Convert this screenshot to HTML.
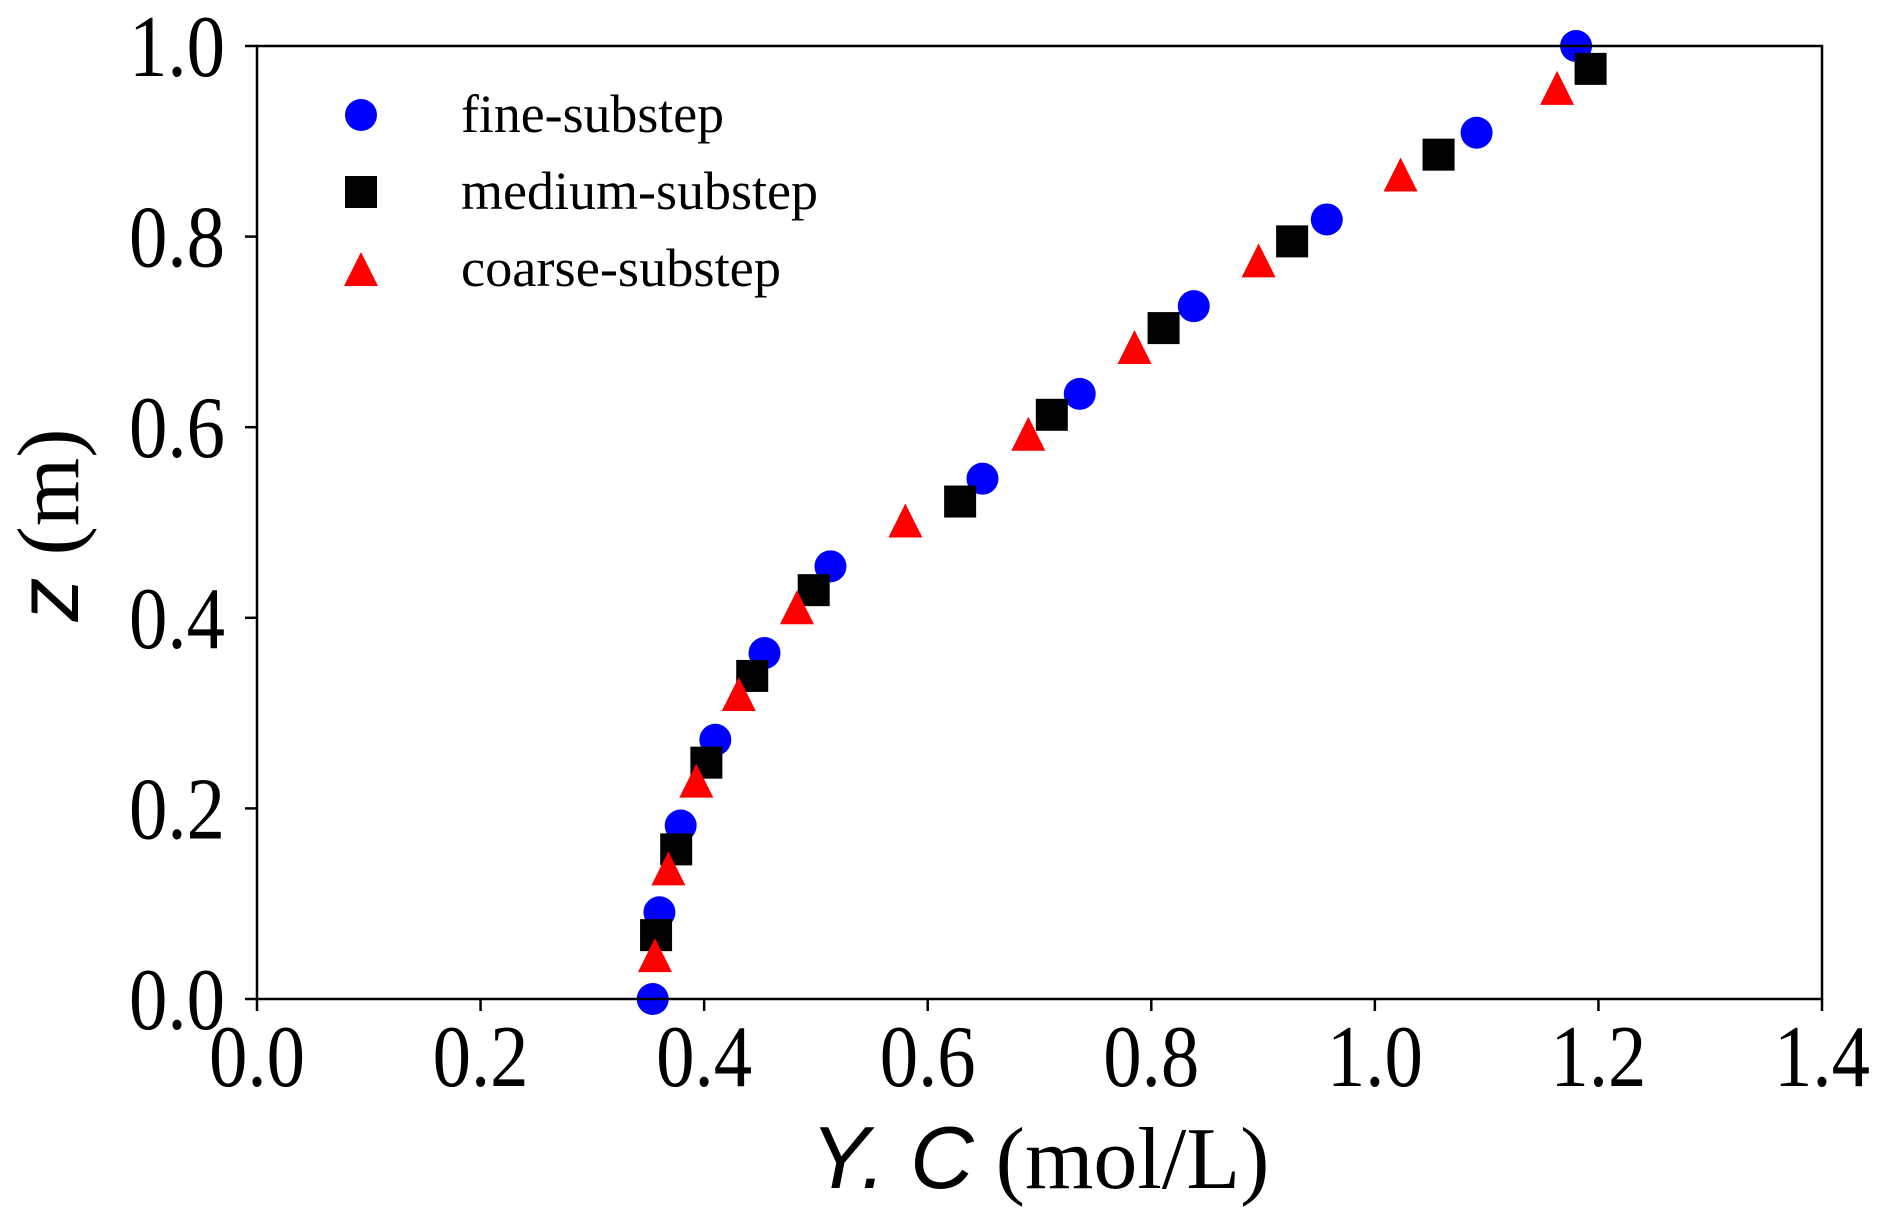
<!DOCTYPE html>
<html><head><meta charset="utf-8"><style>
html,body{margin:0;padding:0;background:#fff;}
svg{display:block;}
text{font-family:"Liberation Serif",serif;fill:#000;}
</style></head><body>
<svg id="chart" width="1892" height="1231" viewBox="0 0 1892 1231" xmlns="http://www.w3.org/2000/svg">
<g id="marks"></g>
<rect x="257" y="46" width="1565" height="953" fill="none" stroke="#000" stroke-width="2.5"/>
<g id="axes"></g>
<g>
  <circle cx="361" cy="115" r="16" fill="#0000ff"/>
  <text x="461" y="132" font-size="54" textLength="263" lengthAdjust="spacingAndGlyphs">fine-substep</text>
  <rect x="345" y="176" width="32" height="32" fill="#000"/>
  <text x="461" y="209" font-size="54" textLength="357" lengthAdjust="spacingAndGlyphs">medium-substep</text>
  <polygon points="361,252 344,286 378,286" fill="#ff0000"/>
  <text x="461" y="286" font-size="54" textLength="320" lengthAdjust="spacingAndGlyphs">coarse-substep</text>
</g>
<text transform="translate(78,525) rotate(-90)" text-anchor="middle" font-size="88"><tspan font-family="Liberation Sans, sans-serif" font-style="italic">z</tspan> (m)</text>
<text x="1040" y="1188" text-anchor="middle" font-size="88"><tspan font-family="Liberation Sans, sans-serif" font-style="italic">Y. C</tspan> (mol/L)</text>
</svg>
<script>
const fineX = [0.354,0.36,0.379,0.41,0.454,0.513,0.649,0.736,0.838,0.957,1.091,1.18];
const fineZ = [0.0,0.091,0.182,0.272,0.363,0.454,0.546,0.635,0.727,0.818,0.909,1.0];
const mediumX = [0.357,0.375,0.402,0.443,0.498,0.629,0.711,0.811,0.926,1.057,1.193];
const mediumZ = [0.067,0.157,0.248,0.339,0.429,0.522,0.613,0.704,0.795,0.886,0.976];
const coarseX = [0.356,0.368,0.393,0.431,0.483,0.58,0.69,0.785,0.896,1.023,1.163];
const coarseZ = [0.044,0.135,0.227,0.318,0.409,0.5,0.591,0.682,0.773,0.863,0.954];
const xTicks = [0.0,0.2,0.4,0.6,0.8,1.0,1.2,1.4];
const yTicks = [0.0,0.2,0.4,0.6,0.8,1.0];

const NS="http://www.w3.org/2000/svg";
const X0=257,X1=1822,Y0=999,Y1=46;
function sx(v){return X0+(v-0)/(1.4-0)*(X1-X0);}
function sy(v){return Y0-(v-0)/(1-0)*(Y0-Y1);}
function mk(tag,attrs,parent){const e=document.createElementNS(NS,tag);for(const k in attrs)e.setAttribute(k,attrs[k]);parent.appendChild(e);return e;}
const marks=document.getElementById('marks');
const axes=document.getElementById('axes');
fineX.forEach((v,i)=>{
  const c=mk('circle',{cx:sx(v),cy:sy(fineZ[i]),r:16,fill:'#0000ff'},marks);
  
  
});
mediumX.forEach((v,i)=>{
  const r=mk('rect',{x:sx(v)-16,y:sy(mediumZ[i])-16,width:32,height:32,fill:'#000'},marks);
  
  
});
coarseX.forEach((v,i)=>{
  const x=sx(v),y=sy(coarseZ[i]);
  const p=mk('polygon',{points:`${x},${y-19} ${x-17},${y+15} ${x+17},${y+15}`,fill:'#ff0000'},marks);
  
  
});
xTicks.forEach(t=>{
  const l=mk('line',{x1:sx(t),x2:sx(t),y1:Y0,y2:Y0+12,stroke:'#000','stroke-width':2.5},axes);
  
  
  const tx=mk('text',{x:sx(t),y:1086,'text-anchor':'middle','font-size':88,textLength:96,lengthAdjust:'spacingAndGlyphs'},axes);
  tx.textContent=t.toFixed(1);
  
  
});
yTicks.forEach(t=>{
  const l=mk('line',{x1:X0-12,x2:X0,y1:sy(t),y2:sy(t),stroke:'#000','stroke-width':2.5},axes);
  
  
  const tx=mk('text',{x:225,y:sy(t)+30,'text-anchor':'end','font-size':88,textLength:96,lengthAdjust:'spacingAndGlyphs'},axes);
  tx.textContent=t.toFixed(1);
  
  
});
</script>
</body></html>
